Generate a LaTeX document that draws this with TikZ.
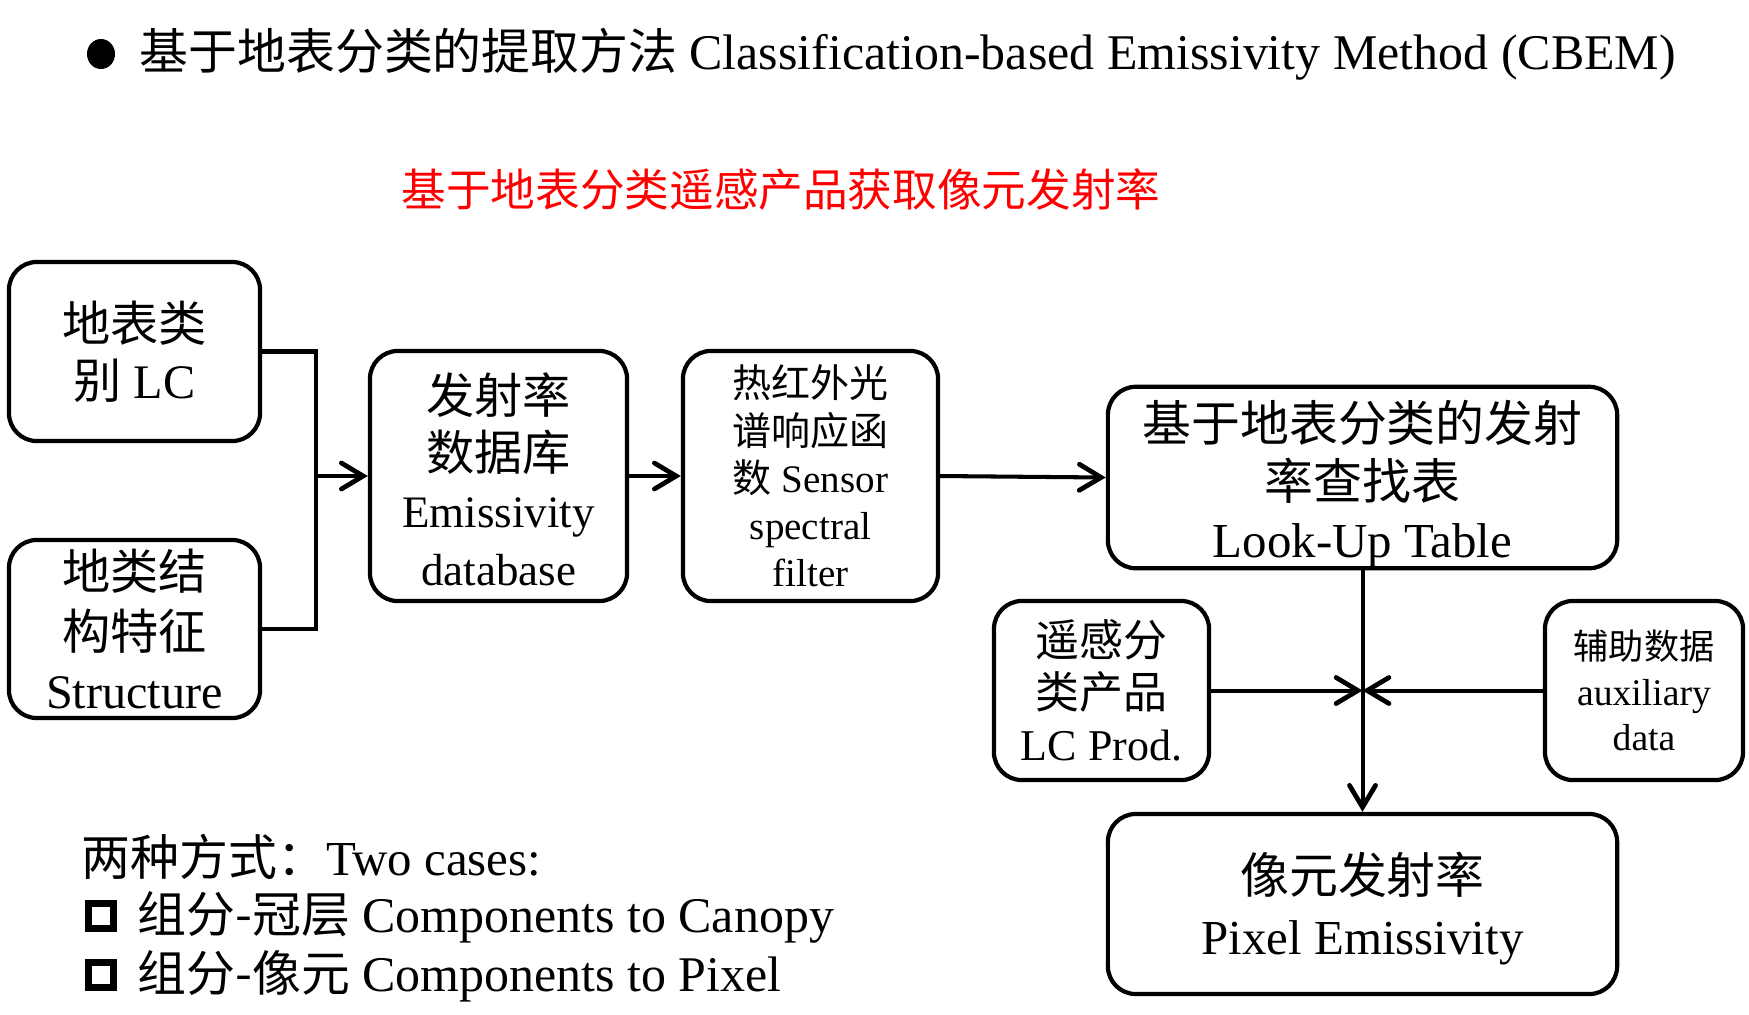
\documentclass[tikz,border=0pt]{standalone}
\usepackage{fontspec}
\setmainfont{Liberation Serif}
\newfontfamily\cjk{Noto Sans CJK SC}
\usetikzlibrary{arrows.meta}
\newcommand{\zhs}[1]{{\cjk #1}}
\tikzset{
    box/.style={draw, line width=1.2pt, rounded corners=0.28cm, align=center, inner sep=0pt},
    link/.style={line width=1.15pt},
    arr/.style={link, -{Straight Barb[length=6.2pt,width=7.4pt,line width=1.35pt,line cap=round]}},
    chk/.style={draw, line width=1.8pt, minimum size=0.25cm, inner sep=0pt},
}
\begin{document}
\begin{tikzpicture}[x=0.01cm, y=-0.01cm]
    \useasboundingbox (0,0) rectangle (1749,1014);
    % 标题
    \fill (101,54) ellipse (0.14cm and 0.15cm);
    \node[anchor=west, inner sep=0pt, font=\fontsize{13.9}{16}\selectfont] (title) at (139,54)
        {\zhs{基于地表分类的提取方法} {\fontsize{14.2}{16}\selectfont Classification-based Emissivity Method (CBEM)}};
    \node[red, inner sep=0pt, font=\fontsize{12.7}{15}\selectfont] (sub) at (781,190)
        {\zhs{基于地表分类遥感产品获取像元发射率}};

    % 输入
    \node[box, minimum width=2.51cm, minimum height=1.79cm, font=\fontsize{13.7}{16.3}\selectfont] (lc) at (134.5,351.5)
        {\zhs{地表类}\\\zhs{别} LC};
    \node[box, minimum width=2.51cm, minimum height=1.78cm, font=\fontsize{13.7}{16.8}\selectfont] (struct) at (134.5,629)
        {\zhs{地类结}\\\zhs{构特征}\\Structure};
    \node[box, minimum width=2.57cm, minimum height=2.50cm, font=\fontsize{13.7}{16.3}\selectfont] (db) at (498.5,476)
        {\zhs{\rule{0pt}{4.7mm}发射率}\\\zhs{数据库}\\{\fontsize{12.8}{16.3}\selectfont Emissivity}\\{\fontsize{12.8}{15.6}\selectfont database}};
    \node[box, minimum width=2.55cm, minimum height=2.50cm, font=\fontsize{11.1}{13.4}\selectfont] (sensor) at (810.5,476)
        {\zhs{热红外光}\\\zhs{谱响应函}\\\zhs{数} Sensor\\spectral\\filter};
    \node[box, minimum width=5.09cm, minimum height=1.79cm, font=\fontsize{13.9}{16.5}\selectfont] (lut) at (1362.5,477.5)
        {\zhs{\rule{0pt}{5.5mm}基于地表分类的发射}\\\zhs{率查找表}\\Look-Up Table};
    \node[box, minimum width=2.15cm, minimum height=1.79cm, font=\fontsize{12.5}{14.8}\selectfont] (lcp) at (1101.5,690.5)
        {\zhs{遥感分}\\\zhs{类产品}\\LC Prod.};
    \node[box, minimum width=1.98cm, minimum height=1.79cm, font=\fontsize{10}{13}\selectfont] (aux) at (1644,690.5)
        {\zhs{辅助数据}\\{\fontsize{10.7}{13}\selectfont auxiliary}\\{\fontsize{10.7}{13}\selectfont data}};
    \node[box, minimum width=5.09cm, minimum height=1.80cm, font=\fontsize{13.9}{17.3}\selectfont] (pix) at (1362.5,904)
        {\zhs{\rule{0pt}{5.1mm}像元发射率}\\Pixel Emissivity};

    % 连线
    \coordinate (merge) at (316,476);
    \draw[link] (lc.east) -| (merge) |- (struct.east);
    \draw[arr] (merge) -- (db.west);
    \draw[arr] (db.east) -- (sensor.west);
    \draw[arr] (sensor.east) -- (lut.west);
    \coordinate (hub) at (lut.south |- lcp.east);
    \draw[arr] (lut.south) -- (pix.north);
    \draw[arr] (lcp.east) -- (hub);
    \draw[arr] (aux.west) -- (hub);

    % 两种方式
    \node[anchor=west, inner sep=0pt, font=\fontsize{13.9}{16}\selectfont] (cases) at (81,857)
        {\zhs{两种方式：}Two cases:};
    \node[chk] (chk1) at (101,916) {};
    \node[anchor=west, inner sep=0pt, font=\fontsize{13.9}{16}\selectfont] (opt1) at (137,917)
        {\zhs{组分-冠层} {\fontsize{14.2}{16}\selectfont Components to Canopy}};
    \node[chk] (chk2) at (101,975) {};
    \node[anchor=west, inner sep=0pt, font=\fontsize{13.9}{16}\selectfont] (opt2) at (137,976)
        {\zhs{组分-像元} {\fontsize{14.2}{16}\selectfont Components to Pixel}};
\end{tikzpicture}
\end{document}
